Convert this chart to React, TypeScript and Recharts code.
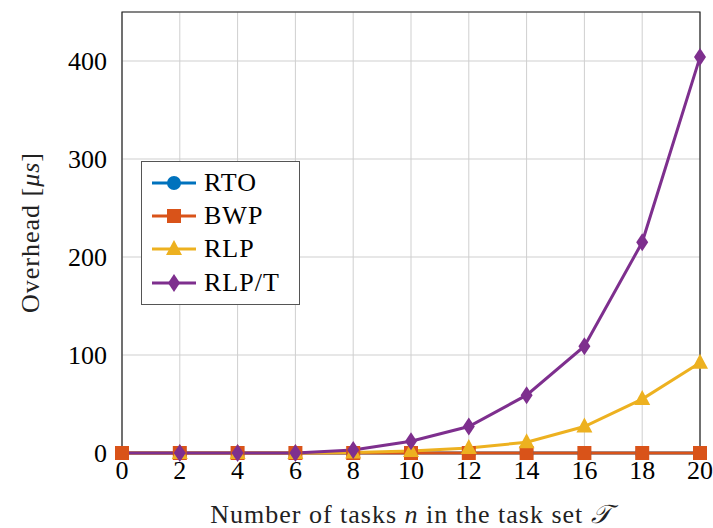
import {
  LineChart,
  Line,
  XAxis,
  YAxis,
  CartesianGrid,
  ReferenceArea,
  Legend,
} from "recharts";

const tasks = [0, 2, 4, 6, 8, 10, 12, 14, 16, 18, 20];
const rto = [0, 0, 0, 0, 0, 0, 0, 0, 0, 0, 0];
const bwp = [0, 0, 0, 0, 0, 0, 0, 0, 0, 0, 0];
const rlp = [0, 0, 0, 0, 0.5, 2, 5, 11, 27, 55, 92];
const rlpT = [0, 0, 0, 0, 3, 12, 27, 59, 109, 215, 404];

const xTicks = [0, 2, 4, 6, 8, 10, 12, 14, 16, 18, 20];
const yTicks = [0, 100, 200, 300, 400];

const data = tasks.map((n, i) => ({
  n,
  rto: rto[i],
  bwp: bwp[i],
  rlp: rlp[i],
  rlpT: rlpT[i],
}));

const FONT = "'Liberation Serif', 'DejaVu Serif', serif";

const series = [
  { key: "rto", name: "RTO", color: "#0072BD", shape: "circle", skipFirst: false },
  { key: "bwp", name: "BWP", color: "#D95319", shape: "square", skipFirst: false },
  { key: "rlp", name: "RLP", color: "#EDB120", shape: "triangle", skipFirst: true },
  { key: "rlpT", name: "RLP/T", color: "#7E2F8E", shape: "diamond", skipFirst: true },
];

function Marker({ cx, cy, shape, color }: any) {
  if (cx == null || cy == null) return null;
  if (shape === "circle") return <circle cx={cx} cy={cy} r={7} fill={color} />;
  if (shape === "square")
    return <rect x={cx - 7} y={cy - 7} width={14} height={14} fill={color} />;
  if (shape === "triangle")
    return (
      <polygon
        points={`${cx},${cy - 9} ${cx + 8},${cy + 6} ${cx - 8},${cy + 6}`}
        fill={color}
      />
    );
  return (
    <polygon
      points={`${cx},${cy - 9} ${cx + 6},${cy} ${cx},${cy + 9} ${cx - 6},${cy}`}
      fill={color}
    />
  );
}

const LegendBox = () => (
  <div
    style={{
      position: "absolute",
      left: 141,
      top: 161,
      width: 159,
      height: 144,
      border: "1.5px solid #555",
      background: "#fff",
      fontFamily: FONT,
      fontSize: 26,
      letterSpacing: 1,
      boxSizing: "border-box",
      paddingTop: 4,
    }}
  >
    {series.map((s) => (
      <div
        key={s.key}
        style={{ display: "flex", alignItems: "center", height: 33.3 }}
      >
        <svg width={54} height={30} style={{ marginLeft: 8, flex: "none" }}>
          <line x1={2} y1={15} x2={46} y2={15} stroke={s.color} strokeWidth={3} />
          <Marker cx={24} cy={15} shape={s.shape} color={s.color} />
        </svg>
        <span style={{ color: "#000" }}>{s.name}</span>
      </div>
    ))}
  </div>
);

const XLabel = ({ viewBox }: any) => {
  const cx = viewBox.x + viewBox.width / 2;
  return (
    <text
      x={cx}
      y={viewBox.y + 70}
      textAnchor="middle"
      fontFamily={FONT}
      fontSize={26}
      letterSpacing={1}
      fill="#222"
    >
      Number of tasks <tspan fontStyle="italic">n</tspan> in the task set{" "}
      <tspan fontStyle="italic">𝒯</tspan>
    </text>
  );
};

const YLabel = ({ viewBox }: any) => {
  const cy = viewBox.y + viewBox.height / 2;
  const x = 30;
  return (
    <text
      x={x}
      y={cy}
      textAnchor="middle"
      dominantBaseline="central"
      transform={`rotate(-90, ${x}, ${cy})`}
      fontFamily={FONT}
      fontSize={26}
      letterSpacing={1}
      fill="#222"
    >
      Overhead [<tspan fontStyle="italic">μs</tspan>]
    </text>
  );
};

export default function App() {
  return (
    <div style={{ position: "absolute", left: 0, top: 0, background: "#fff" }}>
      <LineChart
        width={713}
        height={528}
        data={data}
        margin={{ top: 12, right: 13, left: 0, bottom: 0 }}
      >
        <CartesianGrid stroke="#cfcfcf" strokeWidth={1} />
        <XAxis
          dataKey="n"
          type="number"
          domain={[0, 20]}
          ticks={xTicks}
          height={75}
          axisLine={false}
          tickLine={false}
          tick={{ fill: "#000", fontSize: 26, fontFamily: FONT }}
          tickMargin={2}
          label={<XLabel />}
        />
        <YAxis
          type="number"
          domain={[0, 450]}
          ticks={yTicks}
          width={122}
          axisLine={false}
          tickLine={false}
          tick={{ fill: "#000", fontSize: 26, fontFamily: FONT }}
          tickMargin={9}
          label={<YLabel />}
        />
        <ReferenceArea
          x1={0}
          x2={20}
          y1={0}
          y2={450}
          fill="none"
          stroke="#222"
          strokeWidth={1.2}
          ifOverflow="visible"
        />
        {series.map((s) => (
          <Line
            key={s.key}
            dataKey={s.key}
            name={s.name}
            stroke={s.color}
            strokeWidth={3}
            isAnimationActive={false}
            dot={(p: any) =>
              s.skipFirst && p.index === 0 ? (
                <g key={`${s.key}-${p.index}`} />
              ) : (
                <Marker
                  key={`${s.key}-${p.index}`}
                  cx={p.cx}
                  cy={p.cy}
                  shape={s.shape}
                  color={s.color}
                />
              )
            }
            activeDot={false}
          />
        ))}
        <Legend content={() => null} />
      </LineChart>
      <LegendBox />
    </div>
  );
}
